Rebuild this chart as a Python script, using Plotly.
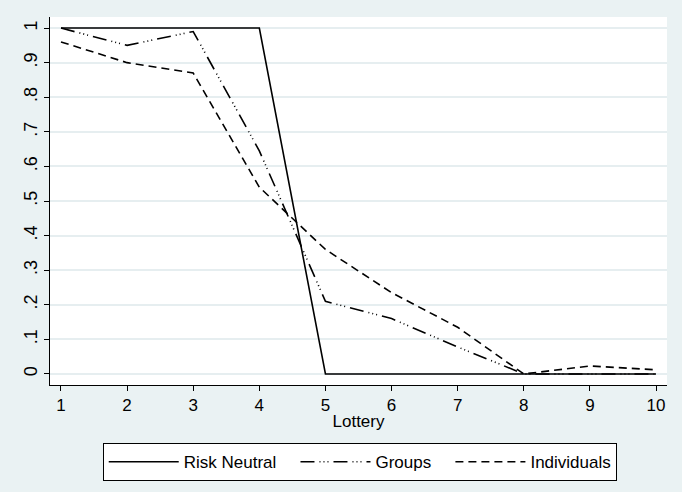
import plotly.graph_objects as go

lottery = [1, 2, 3, 4, 5, 6, 7, 8, 9, 10]
risk_neutral = [1, 1, 1, 1, 0, 0, 0, 0, 0, 0]
groups = [1.0, 0.95, 0.99, 0.645, 0.21, 0.16, 0.078, 0.0, 0.0, 0.0]
individuals = [0.96, 0.90, 0.87, 0.54, 0.36, 0.235, 0.135, 0.0, 0.023, 0.012]

y_ticks = [0, 0.1, 0.2, 0.3, 0.4, 0.5, 0.6, 0.7, 0.8, 0.9, 1]
y_ticktext = ["0", ".1", ".2", ".3", ".4", ".5", ".6", ".7", ".8", ".9", "1"]

fig = go.Figure()
fig.add_trace(go.Scatter(x=lottery, y=risk_neutral, mode="lines", name="Risk Neutral   ",
                         line=dict(color="black", width=1.6, dash="solid")))
fig.add_trace(go.Scatter(x=lottery, y=groups, mode="lines", name="Groups   ",
                         line=dict(color="black", width=1.6, dash="14px,5px,1px,3px,1px,3px,1px,5px")))
fig.add_trace(go.Scatter(x=lottery, y=individuals, mode="lines", name="Individuals",
                         line=dict(color="black", width=1.6, dash="8px,5px")))

font = "Liberation Sans, Arial, Helvetica, sans-serif"
fig.update_layout(
    width=682, height=492,
    margin=dict(l=50, r=15, t=17, b=106),
    paper_bgcolor="#EAF2F3",
    plot_bgcolor="white",
    font=dict(family=font, size=17, color="black"),
    showlegend=True,
    legend=dict(orientation="h", x=0.502, xanchor="center", y=-0.155, yanchor="top",
                bgcolor="white", bordercolor="black", borderwidth=1,
                font=dict(size=17), itemwidth=70, tracegroupgap=0),
    xaxis=dict(range=[0.834, 10.166], tickvals=lottery, ticks="outside", ticklen=5,
               tickcolor="black", showline=True, linecolor="black", linewidth=1,
               showgrid=False, zeroline=False, tickfont=dict(size=17),
               title=dict(text="Lottery", font=dict(size=17), standoff=0)),
    yaxis=dict(range=[-0.032, 1.032], tickvals=y_ticks, ticktext=y_ticktext,
               tickangle=-90, ticks="outside", ticklen=5, tickcolor="black",
               showline=True, linecolor="black", linewidth=1,
               showgrid=True, gridcolor="#E6EEF0", gridwidth=1.5, zeroline=False,
               tickfont=dict(size=18)),
)

fig.write_html("out.html")
